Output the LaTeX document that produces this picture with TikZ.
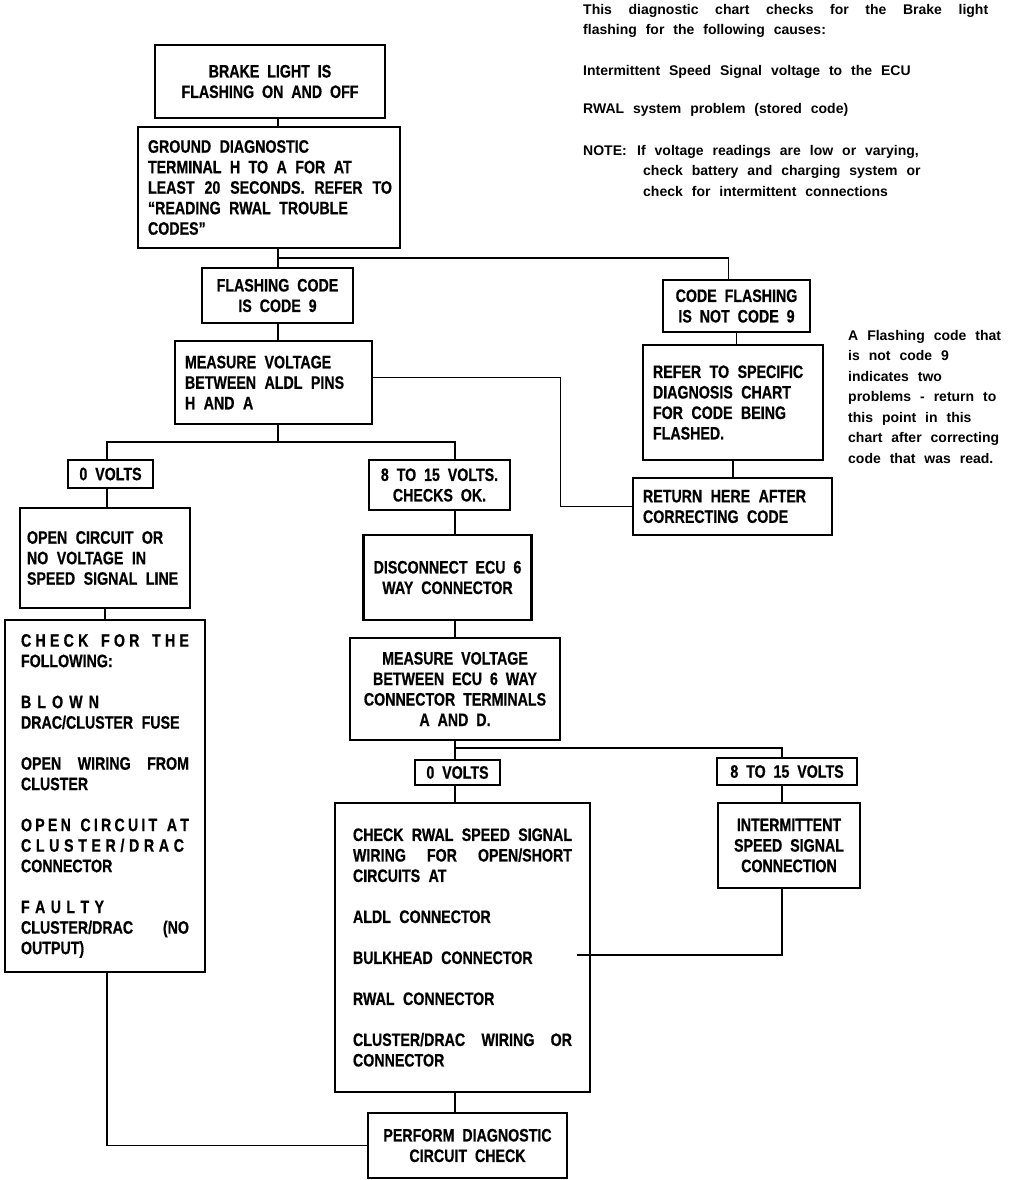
\documentclass[tikz,border=0pt]{standalone}
\usepackage{fontspec}
\setmainfont{Liberation Sans}
\usetikzlibrary{positioning}
\newfontfamily\boxfont[FakeStretch=0.79,WordSpace=2.0,BoldFont=Liberation Sans Bold,BoldFeatures={FakeBold=0.6}]{Liberation Sans}
\newfontfamily\notefont[WordSpace=2.3]{Liberation Sans}
\newcommand{\boxtext}{\boxfont\bfseries\fontsize{18}{20.5}\selectfont}
\newcommand{\notetext}{\notefont\bfseries\fontsize{14}{20.5}\selectfont}
\newcommand{\wordgap}{\spaceskip=0.47em plus 0.2em\relax}
\newcommand{\fillto}[2]{\makebox[#1][s]{\spaceskip=0.15em plus 1fil\relax #2}}

\begin{document}
\begin{tikzpicture}[x=1pt, y=-1pt,
  box/.style={draw, line width=1.4pt, inner xsep=10pt, inner ysep=3pt, font=\boxtext, align=center},
  lbox/.style={box, align=left, execute at begin node=\wordgap},
  heavy/.style={line width=2.4pt},
  flow/.style={line width=1.4pt},
  note/.style={anchor=north west, inner sep=0pt, align=left, font=\notetext}]
\fill[white] (0,0) rectangle (1024,1180);
\useasboundingbox (0,0) rectangle (1024,1180);
% Columns of the vertical connectors
\coordinate (colL) at (107,0);
\coordinate (colT) at (278,0);
\coordinate (colM) at (455,0);
\coordinate (colR) at (782,0);
% Notes
\node[note] (intro) at (583,4) {\makebox[405pt][s]{This diagnostic chart checks for the Brake light}\\
flashing for the following causes:\\[20pt]
Intermittent Speed Signal voltage to the ECU\\[18pt]
RWAL system problem (stored code)\\[21pt]
\makebox[54pt][l]{NOTE:}If voltage readings are low or varying,\\
\hspace*{60pt}check battery and charging system or\\
\hspace*{60pt}check for intermittent connections};
\node[note] (sidenote) at (848,330) {A Flashing code that\\is not code 9\\indicates two\\problems - return to\\this point in this\\chart after correcting\\code that was read.};
% Top of the chart
\node[box, heavy, minimum width=230pt, minimum height=73pt] (brake) at (270,81.5) {BRAKE LIGHT IS\\FLASHING ON AND OFF};
\node[lbox, heavy, text width=242pt, minimum height=121pt] (ground) at (269,187.5) {GROUND DIAGNOSTIC\\TERMINAL H TO A FOR AT\\\fillto{244pt}{LEAST 20 SECONDS. REFER TO}\\“READING RWAL TROUBLE\\CODES”};
\node[box, minimum width=151pt, minimum height=55pt] (isnine) at (277.5,295.5) {FLASHING CODE\\IS CODE 9};
\node[lbox, text width=177pt, minimum height=83pt] (aldl) at (273.5,382.5) {MEASURE VOLTAGE\\BETWEEN ALDL PINS\\H AND A};
% Right branch
\node[box, minimum width=147pt, minimum height=52pt] (notnine) at (736.5,306) {CODE FLASHING\\IS NOT CODE 9};
\node[lbox, heavy, text width=160pt, minimum height=115pt] (refer) at (733,402.5) {REFER TO SPECIFIC\\DIAGNOSIS CHART\\FOR CODE BEING\\FLASHED.};
\node[lbox, text width=179pt, minimum height=57pt] (ret) at (732.5,506.5) {RETURN HERE AFTER\\CORRECTING CODE};
% Left branch
\node[box, minimum width=85pt, minimum height=28pt] (zeroa) at (110.5,474) {0 VOLTS};
\node[lbox, inner xsep=7pt, text width=156pt, minimum height=100pt] (opencirc) at (105,558) {OPEN CIRCUIT OR\\NO VOLTAGE IN\\SPEED SIGNAL LINE};
\node[lbox, heavy, inner xsep=16pt, text width=168pt, minimum height=352pt] (checkfor) at (105,796) {\fillto{168pt}{C H E C K \ \ F O R \ \ T H E}\\
FOLLOWING:\\[20.5pt]
\fillto{78pt}{B L O W N}\\
DRAC/CLUSTER FUSE\\[20.5pt]
\fillto{168pt}{OPEN WIRING FROM}\\
CLUSTER\\[20.5pt]
\fillto{168pt}{O P E N \ \ C I R C U I T \ \ A T}\\
\fillto{163pt}{C L U S T E R / D R A C}\\
CONNECTOR\\[20.5pt]
\fillto{83pt}{F A U L T Y}\\
\fillto{168pt}{CLUSTER/DRAC (NO}\\
OUTPUT)};
% Middle branch
\node[box, minimum width=141pt, minimum height=50pt] (okay) at (439.5,485) {8 TO 15 VOLTS.\\CHECKS OK.};
\node[box, heavy, minimum width=165pt, minimum height=85pt] (disc) at (447.5,577.5) {DISCONNECT ECU 6\\WAY CONNECTOR};
\node[box, minimum width=210pt, minimum height=102pt] (ecu) at (455,689) {MEASURE VOLTAGE\\BETWEEN ECU 6 WAY\\CONNECTOR TERMINALS\\A AND D.};
\node[box, minimum width=85pt, minimum height=25pt] (zerob) at (457.5,772.5) {0 VOLTS};
\node[box, minimum width=140pt, minimum height=27pt] (eightv) at (787,771.5) {8 TO 15 VOLTS};
\node[lbox, heavy, inner xsep=18pt, text width=219pt, minimum height=289pt] (rwal) at (462.5,947.5) {\fillto{219pt}{CHECK RWAL SPEED SIGNAL}\\
\fillto{219pt}{WIRING FOR OPEN/SHORT}\\
CIRCUITS AT\\[20.5pt]
ALDL CONNECTOR\\[20.5pt]
BULKHEAD CONNECTOR\\[20.5pt]
RWAL CONNECTOR\\[20.5pt]
\fillto{219pt}{CLUSTER/DRAC WIRING OR}\\
CONNECTOR};
\node[box, minimum width=142pt, minimum height=85pt] (interm) at (789,845.5) {INTERMITTENT\\SPEED SIGNAL\\CONNECTION};
\node[box, minimum width=199pt, minimum height=65pt] (perform) at (467.5,1145.5) {PERFORM DIAGNOSTIC\\CIRCUIT CHECK};
% Connectors
\coordinate (split) at (278,258);
\coordinate (fork) at (278,442);
\coordinate (fork2) at (455,748);
\coordinate (tap) at (577,955);
\draw[flow] (brake.south -| colT) -- (ground.north -| colT);
\draw[flow] (ground.south -| colT) -- (isnine.north -| colT);
\draw[flow] (split) -| ([xshift=-8pt]notnine.north);
\draw[flow] (isnine.south -| colT) -- (aldl.north -| colT);
\draw[flow] ([yshift=5pt]aldl.east) -- ++(188,0) |- (ret.west);
\draw[flow] (notnine.south) -- (notnine.south |- refer.north);
\draw[flow] (refer.south) -- (refer.south |- ret.north);
\draw[flow] (aldl.south -| colT) -- (fork);
\draw[flow] (zeroa.north -| colL) |- (fork) -| (okay.north -| colM);
\draw[flow] (zeroa.south -| colL) -- (opencirc.north -| colL);
\draw[flow] (opencirc.south) -- (checkfor.north);
\draw[flow] (okay.south -| colM) -- (disc.north -| colM);
\draw[flow] (disc.south -| colM) -- (ecu.north -| colM);
\draw[flow] (ecu.south -| colM) -- (zerob.north -| colM);
\draw[flow] (fork2) -| (eightv.north -| colR);
\draw[flow] (zerob.south -| colM) -- (rwal.north -| colM);
\draw[flow] (eightv.south -| colR) -- (interm.north -| colR);
\draw[flow] (interm.south -| colR) |- (tap);
\draw[flow] (rwal.south -| colM) -- (perform.north -| colM);
\draw[flow] (checkfor.south -| colL) |- (perform.west);
\end{tikzpicture}
\end{document}
